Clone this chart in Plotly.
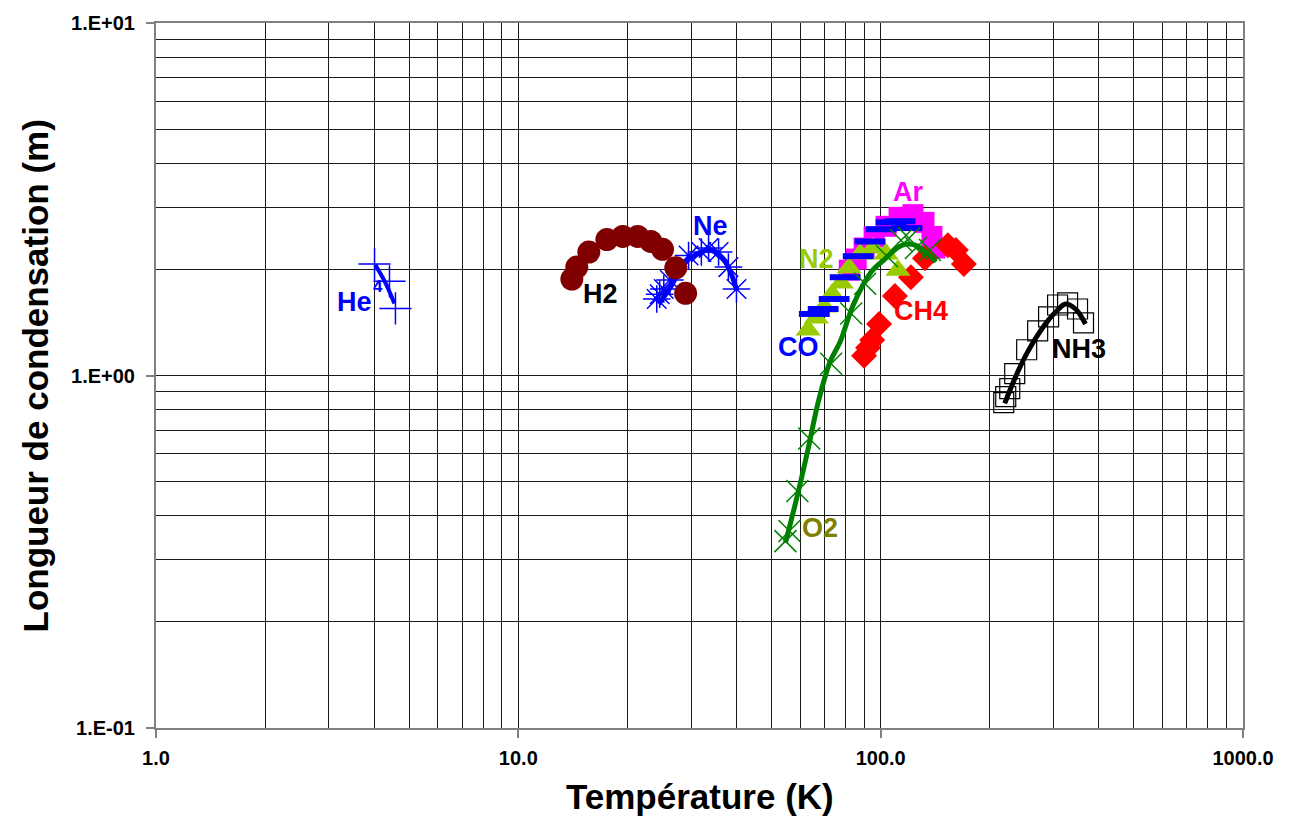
import numpy as np
import plotly.graph_objects as go

# ---------------- data (temperature K, condensation length m) ----------------
he_T = [4.01, 4.41, 4.58]
he_L = [2.07, 1.85, 1.55]
he_fit_T = [4.03, 4.30, 4.55]
he_fit_L = [2.06, 1.83, 1.60]

h2_T = [14.05, 14.5, 15.65, 17.55, 19.42, 21.35, 23.2, 25.0, 27.2, 28.95]
h2_L = [1.877, 2.03, 2.24, 2.43, 2.48, 2.48, 2.40, 2.28, 2.02, 1.71]

ne_T = [24.1, 24.55, 25.2, 26.2, 29.5, 32.0, 33.5, 35.7, 38.0, 40.0]
ne_L = [1.648, 1.70, 1.76, 1.865, 2.19, 2.24, 2.30, 2.24, 2.03, 1.76]
ne_fit_T = [24.4, 26.3, 28.6, 31.0, 33.9, 36.8, 38.7, 40.0]
ne_fit_L = [1.595, 1.78, 2.07, 2.21, 2.27, 2.14, 1.94, 1.75]

ar_T = [81.9, 85.6, 90.0, 95.9, 103.5, 112.4, 122.8, 131.7, 138.5, 141.1]
ar_L = [1.99, 2.14, 2.30, 2.47, 2.65, 2.81, 2.86, 2.72, 2.48, 2.30]

ch4_T = [90.0, 92.3, 94.7, 99.0, 109.5, 121.2, 132.5, 153.3, 161.3, 169.7]
ch4_L = [1.137, 1.198, 1.262, 1.40, 1.68, 1.90, 2.15, 2.34, 2.27, 2.07]

n2_T = [63.1, 66.4, 69.9, 73.5, 77.8, 81.8, 87.8, 95.3, 103.5, 111.6]
n2_L = [1.347, 1.457, 1.564, 1.70, 1.83, 2.02, 2.21, 2.30, 2.21, 1.99]

co_T = [65.6, 69.4, 74.4, 79.8, 86.7, 93.5, 100.3, 106.8, 113.1, 118.2]
co_L = [1.495, 1.544, 1.648, 1.90, 2.18, 2.40, 2.60, 2.72, 2.74, 2.62]

o2_T = [54.6, 56.0, 58.9, 63.5, 73.0, 82.9, 90.6, 104.1, 113.8, 119.7, 125.1, 136.8]
o2_L = [0.339, 0.362, 0.47, 0.663, 1.08, 1.50, 1.82, 2.18, 2.42, 2.45, 2.30, 2.27]
o2_fit_T = [54.6, 59.3, 63.1, 67.3, 72.5, 77.3, 84.0, 94.1, 102.8, 111.6, 117.5, 125.1, 135.1, 142.0]
o2_fit_L = [0.335, 0.47, 0.621, 0.843, 1.094, 1.246, 1.585, 1.965, 2.14, 2.31, 2.36, 2.34, 2.21, 2.10]

nh3_T = [218.6, 221.4, 227.1, 234.4, 252.9, 271.2, 290.7, 307.8, 328.0, 349.4, 362.9]
nh3_L = [0.838, 0.871, 0.918, 1.012, 1.183, 1.339, 1.466, 1.585, 1.606, 1.544, 1.41]
nh3_fit_T = [220.0, 234.4, 254.5, 283.5, 307.8, 323.8, 345.0, 367.5]
nh3_fit_L = [0.833, 0.979, 1.167, 1.391, 1.534, 1.595, 1.544, 1.40]

# labels: text, T, L, colour, size
labels = [
    ("He", 3.53, 1.616, "#0000FF", 27),
    ("4", 4.11, 1.794, "#0000FF", 17),
    ("H2", 16.89, 1.70, "#000000", 27),
    ("Ne", 33.9, 2.65, "#0000FF", 27),
    ("N2", 66.4, 2.14, "#99CC00", 27),
    ("Ar", 119.0, 3.31, "#FF00FF", 27),
    ("CO", 59.3, 1.206, "#0000FF", 27),
    ("CH4", 129.2, 1.524, "#FF0000", 27),
    ("O2", 68.1, 0.369, "#808000", 27),
    ("NH3", 351.7, 1.19, "#000000", 27),
]

x_tickvals = [1, 10, 100, 1000]
x_ticktext = ["1.0", "10.0", "100.0", "1000.0"]
y_tickvals = [0.1, 1, 10]
y_ticktext = ["1.E-01", "1.E+00", "1.E+01"]

FONT = "Liberation Sans, Arial, sans-serif"

fig = go.Figure()

def add_markers(x, y, symbol, color, size, lw=0, lcolor=None):
    fig.add_trace(go.Scatter(
        x=x, y=y, mode="markers", showlegend=False, hoverinfo="skip",
        marker=dict(symbol=symbol, color=color, size=size,
                    line=dict(width=lw, color=lcolor if lcolor else color))))

def add_line(x, y, color, width=5):
    fig.add_trace(go.Scatter(
        x=x, y=y, mode="lines", showlegend=False, hoverinfo="skip",
        line=dict(color=color, width=width, shape="spline", smoothing=1.0)))

# He4
add_markers(he_T, he_L, "cross-thin-open", "#0000FF", 23, 1.5)
add_line(he_fit_T, he_fit_L, "#0000FF", 4)
# Ne
add_markers(ne_T, ne_L, "asterisk-open", "#0000FF", 23, 1.5)
add_line(ne_fit_T, ne_fit_L, "#0000FF", 5)
# H2
add_markers(h2_T, h2_L, "circle", "#800000", 23)
# Ar
add_markers(ar_T, ar_L, "square", "#FF00FF", 21)
# CH4
add_markers(ch4_T, ch4_L, "diamond", "#FF0000", 20)
# N2
add_markers(n2_T, n2_L, "triangle-up", "#99CC00", 22)
# CO
add_markers(co_T, co_L, "line-ew-open", "#0000FF", 22, 6)
# O2
add_markers(o2_T, o2_L, "x-thin-open", "#008000", 22, 1.5)
add_line(o2_fit_T, o2_fit_L, "#008000", 5)
# NH3
add_markers(nh3_T, nh3_L, "square-open", "#000000", 20, 1.2)
add_line(nh3_fit_T, nh3_fit_L, "#000000", 5)

for text, t, l, c, s in labels:
    fig.add_annotation(x=np.log10(t), y=np.log10(l), xref="x", yref="y",
                       text=text, showarrow=False,
                       font=dict(family=FONT, size=s, color=c, weight="bold"))

# axis titles
fig.add_annotation(x=0.5, y=-0.0975, xref="paper", yref="paper",
                   text="Température (K)", showarrow=False,
                   xanchor="center", yanchor="middle",
                   font=dict(family=FONT, size=35, color="#000000", weight="bold"))
fig.add_annotation(x=-0.1104, y=0.5, xref="paper", yref="paper",
                   text="Longueur de condensation (m)", showarrow=False,
                   textangle=-90, xanchor="center", yanchor="middle",
                   font=dict(family=FONT, size=35, color="#000000", weight="bold"))

grid = dict(showgrid=True, gridcolor="#1a1a1a", gridwidth=1)

fig.update_xaxes(type="log", range=[0, 3], tickvals=x_tickvals, ticktext=x_ticktext,
                 ticks="outside", ticklen=8, tickcolor="#808080", tickwidth=2,
                 ticklabelstandoff=3,
                 showline=True, linecolor="#808080", linewidth=2, mirror=True,
                 tickfont=dict(family=FONT, size=20, color="#000000", weight="bold"),
                 minor=dict(dtick="D1", showgrid=True, gridcolor="#1a1a1a", gridwidth=1, ticks=""),
                 zeroline=False, **grid)
fig.update_yaxes(type="log", range=[-1, 1], tickvals=y_tickvals, ticktext=y_ticktext,
                 ticks="outside", ticklen=8, tickcolor="#808080", tickwidth=2,
                 ticklabelstandoff=7,
                 showline=True, linecolor="#808080", linewidth=2, mirror=True,
                 tickfont=dict(family=FONT, size=20, color="#000000", weight="bold"),
                 minor=dict(dtick="D1", showgrid=True, gridcolor="#1a1a1a", gridwidth=1, ticks=""),
                 zeroline=False, **grid)

fig.update_layout(
    width=1297, height=819,
    margin=dict(l=156, r=54, t=20, b=91),
    paper_bgcolor="#FFFFFF", plot_bgcolor="#FFFFFF",
    font=dict(family=FONT),
    showlegend=False,
)

fig.write_html("out.html")
